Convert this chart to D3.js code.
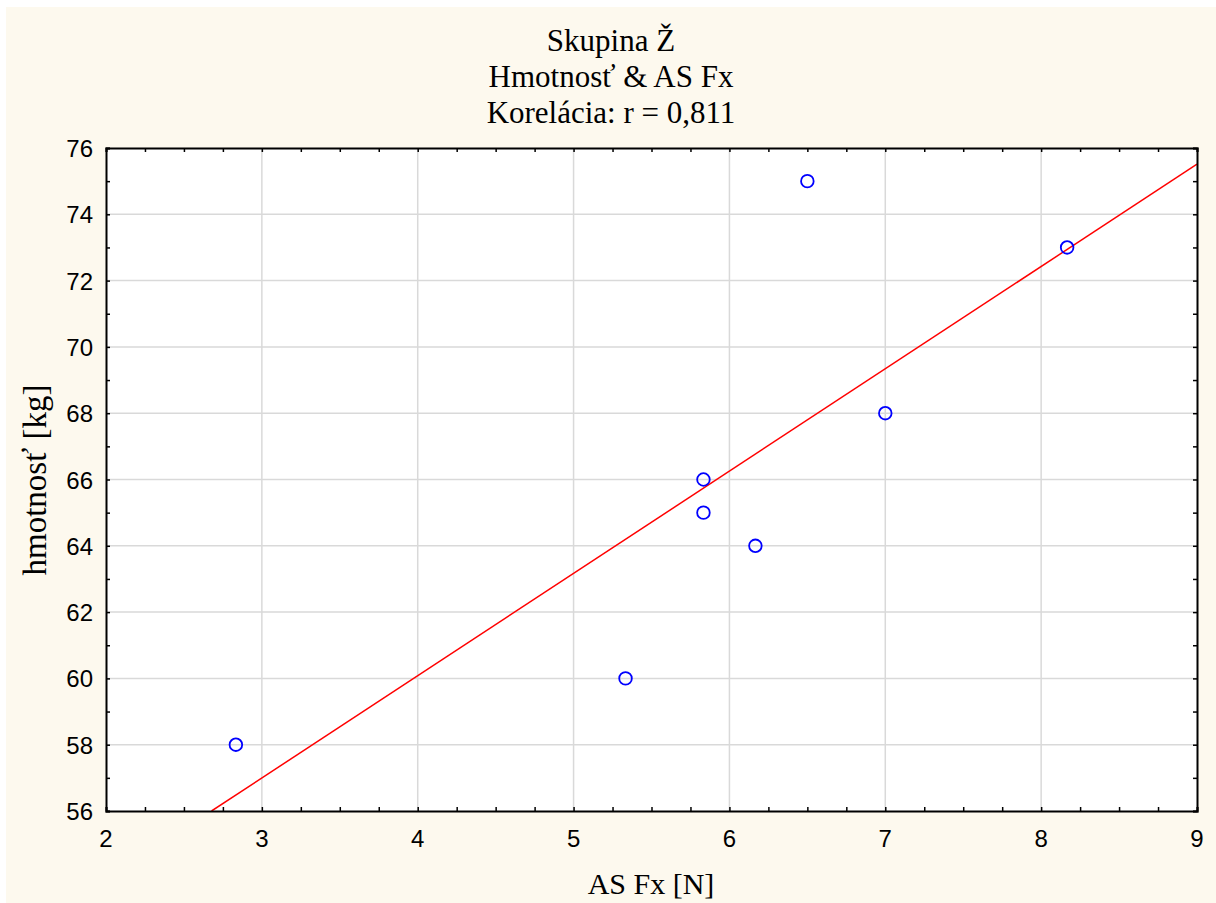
<!DOCTYPE html>
<html>
<head>
<meta charset="utf-8">
<script src="https://cdn.jsdelivr.net/npm/d3@7"></script>
<style>
body { margin: 0; background: #ffffff; }
svg { display: block; }
</style>
</head>
<body>
<svg id="chart" width="1216" height="903"></svg>
<script>
// data
var asFx = [17/6, 32/6, 35/6, 35/6, 37/6, 39/6, 42/6, 49/6];
var hmotnost = [58, 60, 66, 65, 64, 75, 68, 73];
var titleLines = ["Skupina Ž", "Hmotnosť & AS Fx", "Korelácia: r = 0,811"];
var xTicks = [2, 3, 4, 5, 6, 7, 8, 9];
var yTicks = [56, 58, 60, 62, 64, 66, 68, 70, 72, 74, 76];

var svg = d3.select("#chart");
var pL = 106, pR = 1197, pT = 148, pB = 811;
var serif = "Liberation Serif, Times New Roman, serif";
var sans = "Liberation Sans, Arial, sans-serif";

svg.append("rect").attr("x", 6).attr("y", 7).attr("width", 1210).attr("height", 896).attr("fill", "#fdf9ee");
svg.append("rect").attr("x", pL).attr("y", pT).attr("width", pR - pL).attr("height", pB - pT).attr("fill", "#ffffff");

var x = d3.scaleLinear().domain([2, 9]).range([pL, pR]);
var y = d3.scaleLinear().domain([56, 76]).range([pB, pT]);

// grid
svg.append("g").selectAll("line").data(xTicks.slice(1, -1)).join("line")
	.attr("x1", d => x(d)).attr("x2", d => x(d)).attr("y1", pT).attr("y2", pB)
	.attr("stroke", "#d9d9d9").attr("stroke-width", 1.5);
svg.append("g").selectAll("line").data(yTicks.slice(1, -1)).join("line")
	.attr("x1", pL).attr("x2", pR).attr("y1", d => y(d)).attr("y2", d => y(d))
	.attr("stroke", "#d9d9d9").attr("stroke-width", 1.5);

// regression line (least squares), clipped to the plot box
var mx = d3.mean(asFx), my = d3.mean(hmotnost);
var sxy = d3.sum(asFx, (v, i) => (v - mx) * (hmotnost[i] - my));
var sxx = d3.sum(asFx, v => (v - mx) * (v - mx));
var slope = sxy / sxx, icpt = my - slope * mx;
var x0 = Math.max(2, (56 - icpt) / slope), x1 = Math.min(9, (76 - icpt) / slope);
svg.append("defs").append("clipPath").attr("id", "clip").append("rect")
	.attr("x", pL).attr("y", pT).attr("width", pR - pL).attr("height", pB - pT);
svg.append("line").attr("clip-path", "url(#clip)")
	.attr("x1", x(x0)).attr("y1", y(icpt + slope * x0))
	.attr("x2", x(x1)).attr("y2", y(icpt + slope * x1))
	.attr("stroke", "#ff0000").attr("stroke-width", 1.5);

// points
svg.append("g").selectAll("circle").data(asFx).join("circle")
	.attr("cx", d => x(d)).attr("cy", (d, i) => y(hmotnost[i])).attr("r", 6.3)
	.attr("fill", "none").attr("stroke", "#0000ff").attr("stroke-width", 1.8);

// axes with inward ticks
var xMinor = d3.range(2, 9.001, 0.25);
var yMinor = d3.range(56, 76.001, 1);
var axB = d3.axisBottom(x).tickValues(xMinor).tickSize(-4).tickFormat("");
var axT = d3.axisTop(x).tickValues(xMinor).tickSize(-4).tickFormat("");
var axL = d3.axisLeft(y).tickValues(yMinor).tickSize(-4).tickFormat("");
var axR = d3.axisRight(y).tickValues(yMinor).tickSize(-4).tickFormat("");
[[axB, "translate(0," + pB + ")"], [axT, "translate(0," + pT + ")"],
 [axL, "translate(" + pL + ",0)"], [axR, "translate(" + pR + ",0)"]].forEach(function (a) {
	var g = svg.append("g").attr("transform", a[1]).call(a[0]);
	g.select(".domain").attr("stroke", "#000").attr("stroke-width", 2);
	g.selectAll(".tick line").attr("stroke", "#000").attr("stroke-width", 1.5);
});

// tick labels
svg.append("g").selectAll("text").data(xTicks).join("text")
	.attr("x", d => x(d)).attr("y", 847).attr("text-anchor", "middle")
	.attr("font-family", sans).attr("font-size", 24).attr("fill", "#000")
	.text(d => d);
svg.append("g").selectAll("text").data(yTicks).join("text")
	.attr("x", 93).attr("y", d => y(d) + 9).attr("text-anchor", "end")
	.attr("font-family", sans).attr("font-size", 24).attr("fill", "#000")
	.text(d => d);

// titles
svg.append("g").selectAll("text").data(titleLines).join("text")
	.attr("x", 611).attr("y", (d, i) => 51 + i * 36).attr("text-anchor", "middle")
	.attr("font-family", serif).attr("font-size", 31).attr("fill", "#000")
	.text(d => d);
svg.append("text").attr("x", 651).attr("y", 894).attr("text-anchor", "middle")
	.attr("font-family", serif).attr("font-size", 30).attr("fill", "#000")
	.text("AS Fx [N]");
svg.append("text").attr("transform", "translate(46,480) rotate(-90)").attr("text-anchor", "middle")
	.attr("font-family", serif).attr("font-size", 33).attr("fill", "#000")
	.text("hmotnosť [kg]");
</script>
</body>
</html>
